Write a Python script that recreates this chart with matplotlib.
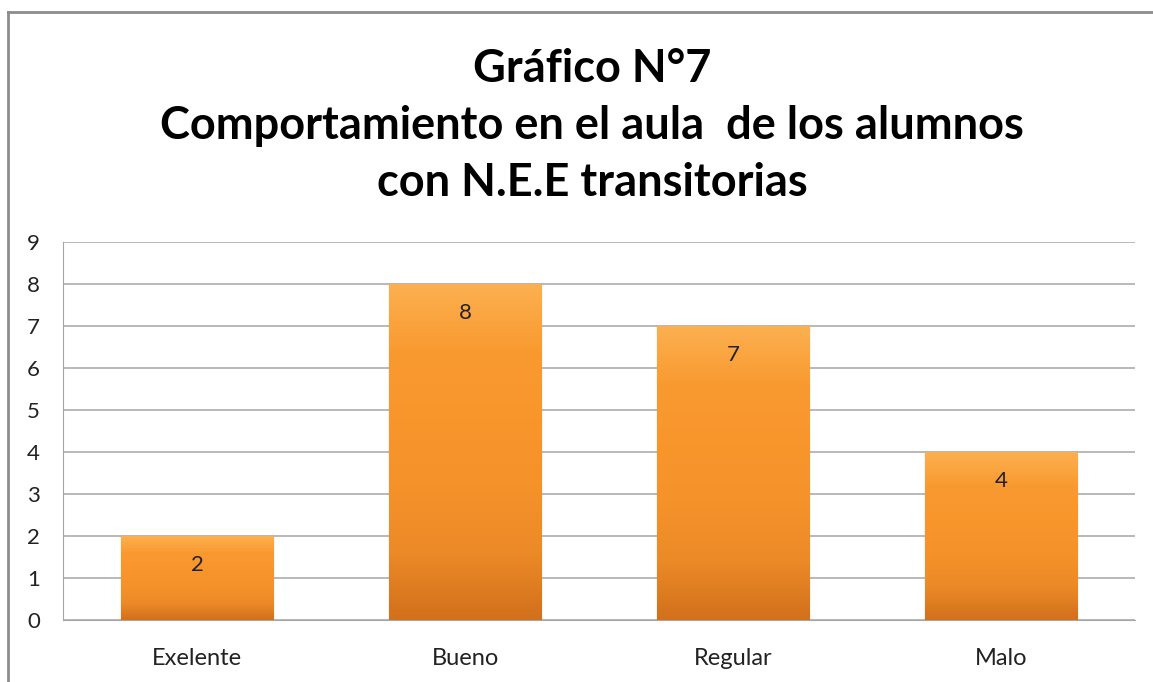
import numpy as np
import matplotlib
matplotlib.use("Agg")
import matplotlib.pyplot as plt
from matplotlib.lines import Line2D

categories = ["Exelente", "Bueno", "Regular", "Malo"]
values = [2, 8, 7, 4]
yticks = list(range(0, 10))
title = "Gráfico N°7\nComportamiento en el aula  de los alumnos\ncon N.E.E transitorias"

plt.rcParams['font.family'] = ['Lato', 'DejaVu Sans']

fig = plt.figure(figsize=(11.53, 6.82), dpi=100)
ax = fig.add_axes([63/1153, 62/682, (1135-63)/1153, (620-242)/682])

x = np.arange(len(categories))
bars = ax.bar(x, values, width=0.57, color='#F7941E', edgecolor='#B8600F',
              linewidth=0.8, zorder=3)

# vertical gradient inside each bar
grad = np.linspace(0, 1, 256).reshape(-1, 1)
cmap = matplotlib.colors.LinearSegmentedColormap.from_list(
    'org', ['#D2701C', '#EC8A28', '#F5922A', '#F8962C', '#F99A30', '#FCB050'])
for b in bars:
    bx, by = b.get_x(), b.get_y()
    w, h = b.get_width(), b.get_height()
    im = ax.imshow(grad, extent=[bx, bx + w, by, by + h], origin='lower',
                   cmap=cmap, aspect='auto', zorder=3.5)
    im.set_clip_path(b)
    ax.text(bx + w/2, by + h - 0.68, str(int(h)), ha='center', va='center',
            fontsize=16, color='#222222', zorder=5)

ax.set_xlim(-0.5, len(categories) - 0.5)
ax.set_ylim(0, 9)
ax.set_yticks(yticks)
ax.set_xticks(x)
ax.set_xticklabels(categories)
ax.tick_params(axis='both', length=0, labelsize=16, colors='#222222')
ax.tick_params(axis='x', pad=20, labelsize=17)
ax.tick_params(axis='y', pad=26)
for lab in ax.get_yticklabels():
    lab.set_horizontalalignment('left')
ax.yaxis.grid(True, color='#A6A6A6', linewidth=1.1, zorder=0)
ax.set_axisbelow(True)
for s in ['top', 'right']:
    ax.spines[s].set_visible(False)
ax.spines['left'].set_color('#A6A6A6')
ax.spines['bottom'].set_color('#A6A6A6')

fig.text(592/1153, 1 - 126/682, title, ha='center', va='center',
         fontsize=32.5, fontweight='bold', linespacing=1.45, color='#000000')

# outer chart frame (top and left edges visible)
fig.add_artist(Line2D([8/1153, 8/1153], [0, 1 - 12/682], transform=fig.transFigure,
                      color='#8C8C8C', linewidth=2))
fig.add_artist(Line2D([8/1153, 1], [1 - 12/682, 1 - 12/682], transform=fig.transFigure,
                      color='#8C8C8C', linewidth=2))

fig.savefig("out.png", dpi=100)
